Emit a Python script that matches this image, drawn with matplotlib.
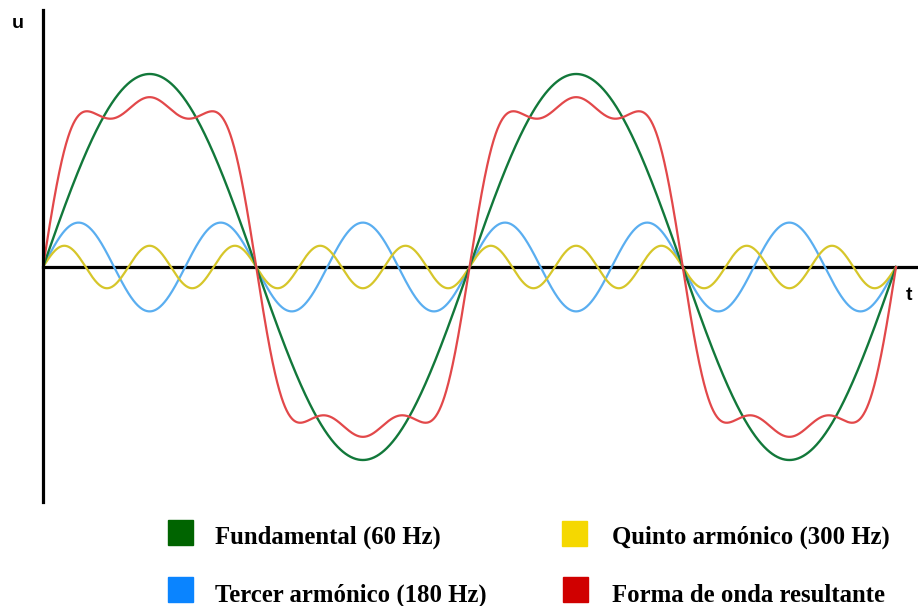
import numpy as np
import matplotlib.pyplot as plt
from matplotlib.patches import Rectangle

# harmonic content of the waveform (frequency in Hz, relative amplitude)
freqs = [60, 180, 300]
amps = [1.0, 0.23, 0.11]
names = ['Fundamental (60 Hz)', 'Tercer armónico (180 Hz)',
         'Quinto armónico (300 Hz)', 'Forma de onda resultante']
line_colors = ['#12783a', '#5aaef0', '#d6c62a', '#e2484a']
box_colors = ['#006400', '#0a84ff', '#f5d800', '#d00000']

W, H = 918, 606
fig = plt.figure(figsize=(W / 100, H / 100), dpi=100)

# axes: left edge is the u axis, right edge is the figure edge
x0, x_end = 43, 896
y_top, y_zero, y_bot, px_unit = 10, 267, 502, 193
ax = fig.add_axes([x0 / W, 1 - y_bot / H, 1 - x0 / W, (y_bot - y_top) / H])

T = 1 / freqs[0]
t = np.linspace(0, 2 * T, 2000)
waves = [a * np.sin(2 * np.pi * f * t) for f, a in zip(freqs, amps)]
total = waves[0] + waves[1] + waves[2]

ax.plot(t, waves[1], color=line_colors[1], lw=1.6)
ax.plot(t, waves[2], color=line_colors[2], lw=1.6)
ax.plot(t, waves[0], color=line_colors[0], lw=1.7)
ax.plot(t, total, color=line_colors[3], lw=1.6)

ax.set_xlim(0, 2 * T * (W - x0) / (x_end - x0))
ax.set_ylim(-(y_bot - y_zero) / px_unit, (y_zero - y_top) / px_unit)

for s in ['top', 'right']:
    ax.spines[s].set_visible(False)
ax.spines['bottom'].set_position(('data', 0))
ax.spines['bottom'].set_linewidth(2.3)
ax.spines['left'].set_linewidth(2.3)
ax.spines['bottom'].set_zorder(1)
ax.set_xticks([])
ax.set_yticks([])
ax.patch.set_alpha(0)

fig.text(18 / W, 1 - 23 / H, 'u', fontsize=14, fontweight='bold',
         family='Liberation Sans', ha='center', va='center')
fig.text(906 / W, 1 - 296 / H, 't', fontsize=14, fontweight='bold',
         family='Liberation Sans', ha='left', va='center')

# legend drawn by hand: two columns, two rows
box_x = [168, 168, 562, 563]
box_y = [520, 577, 521, 577]
text_x = [215, 215, 612, 612]
text_y = [544, 602, 544, 602]
for i in range(4):
    fig.patches.append(Rectangle((box_x[i] / W, 1 - (box_y[i] + 25) / H), 25 / W, 25 / H,
                                 transform=fig.transFigure, color=box_colors[i]))
    fig.text(text_x[i] / W, 1 - text_y[i] / H, names[i], fontsize=17.8,
             fontweight='bold', family='Liberation Serif', va='baseline')

fig.savefig('out.png', dpi=100)
